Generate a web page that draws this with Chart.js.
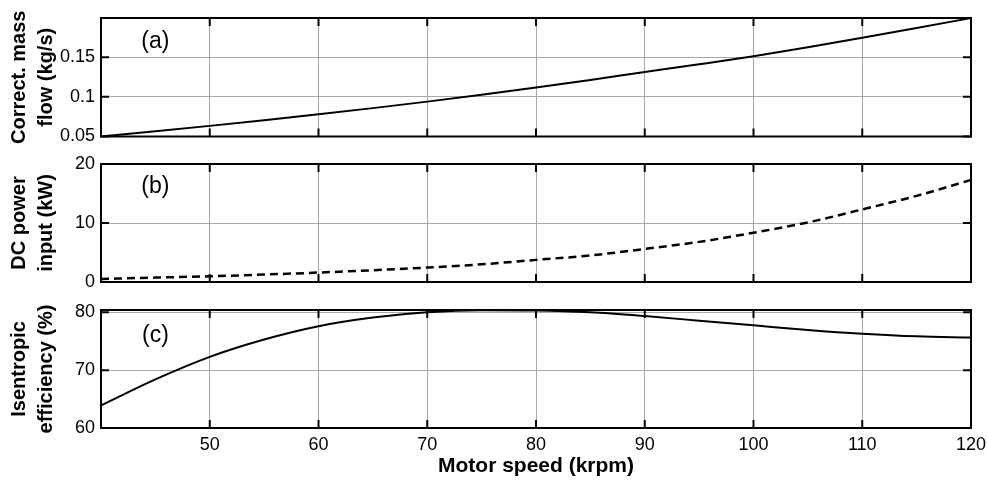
<!DOCTYPE html>
<html lang="en">
<head>
    <meta charset="UTF-8">
    <title>Compressor performance vs motor speed</title>
    <style>
        body {
            margin: 0;
            background: #ffffff;
        }
        #wrap {
            position: relative;
            width: 988px;
            height: 483px;
        }
        #wrap canvas {
            position: absolute;
            left: 0;
            top: 0;
        }
    </style>
</head>
<body>
    <div id="wrap">
        <canvas id="chartA" width="988" height="483"></canvas>
        <canvas id="chartB" width="988" height="483"></canvas>
        <canvas id="chartC" width="988" height="483"></canvas>
    </div>

    <script src="https://cdn.jsdelivr.net/npm/chart.js"></script>
    <script>
        // values (krpm on x)
        const speed = [40, 45, 50, 55, 60, 65, 70, 75, 80, 85, 90, 95, 100, 105, 110, 115, 120];
        const massFlow = [0.050, 0.0566, 0.0634, 0.0705, 0.0780, 0.0858, 0.0940, 0.1026, 0.1117, 0.1213, 0.1313, 0.1411, 0.1513, 0.1625, 0.1745, 0.1868, 0.1995];
        const dcPower = [0.5, 0.75, 0.97, 1.26, 1.6, 2.0, 2.45, 3.0, 3.75, 4.5, 5.6, 6.8, 8.35, 10.1, 12.3, 14.6, 17.3];
        const efficiency = [63.9, 68.4, 72.3, 75.3, 77.6, 79.1, 80.0, 80.35, 80.3, 80.0, 79.35, 78.55, 77.75, 76.95, 76.3, 75.85, 75.65];

        const speedTicks = [50, 60, 70, 80, 90, 100, 110, 120];
        const massTicks = [0.05, 0.1, 0.15];
        const powerTicks = [0, 10, 20];
        const effTicks = [60, 70, 80];

        const panelLabels = ['(a)', '(b)', '(c)'];
        const panelLabelX = 45;
        const panelLabelY = [0.17, 16.1, 75.9];

        const FONT = '"Liberation Sans", Arial, sans-serif';
        const GRID = '#a8a8a8';

        const framePlugin = {
            id: 'frame',
            afterDraw(chart, args, opts) {
                const ctx = chart.ctx;
                const a = chart.chartArea;
                const x = chart.scales.x;
                const y = chart.scales.y;
                ctx.save();
                ctx.strokeStyle = '#000';
                ctx.lineWidth = 2;
                ctx.beginPath();
                x.ticks.forEach(t => {
                    const px = x.getPixelForValue(t.value);
                    ctx.moveTo(px, a.top);
                    ctx.lineTo(px, a.top + 8);
                    ctx.moveTo(px, a.bottom);
                    ctx.lineTo(px, a.bottom - 8);
                });
                y.ticks.forEach(t => {
                    const py = y.getPixelForValue(t.value);
                    ctx.moveTo(a.left, py);
                    ctx.lineTo(a.left + 8, py);
                    ctx.moveTo(a.right, py);
                    ctx.lineTo(a.right - 8, py);
                });
                ctx.stroke();
                ctx.strokeRect(a.left, a.top, a.right - a.left, a.bottom - a.top);

                ctx.fillStyle = '#000';
                ctx.font = '23px ' + FONT;
                ctx.textAlign = 'center';
                ctx.textBaseline = 'middle';
                ctx.fillText(opts.text, x.getPixelForValue(panelLabelX), y.getPixelForValue(opts.y));
                ctx.restore();
            }
        };

        function makePanel(id, values, cfg) {
            const points = speed.map((s, i) => ({ x: s, y: values[i] }));
            return new Chart(document.getElementById(id), {
                type: 'line',
                data: {
                    datasets: [{
                        data: points,
                        borderColor: '#000',
                        borderWidth: cfg.lineWidth,
                        borderDash: cfg.dash,
                        pointRadius: 0,
                        fill: false,
                        cubicInterpolationMode: 'monotone'
                    }]
                },
                options: {
                    responsive: false,
                    animation: false,
                    devicePixelRatio: 1,
                    layout: {
                        padding: { left: 0, right: 17, top: cfg.top, bottom: cfg.bottom }
                    },
                    plugins: {
                        legend: { display: false },
                        tooltip: { enabled: false },
                        frame: { text: cfg.label, y: cfg.labelY }
                    },
                    scales: {
                        x: {
                            type: 'linear',
                            min: 40,
                            max: 120,
                            afterBuildTicks: s => { s.ticks = speedTicks.map(v => ({ value: v })); },
                            afterFit: s => {
                                s.height = cfg.xHeight;
                                s.paddingLeft = 0;
                                s.paddingRight = 0;
                            },
                            grid: { color: GRID, lineWidth: 1, drawTicks: false },
                            border: { display: false },
                            ticks: {
                                display: cfg.showX,
                                color: '#000',
                                padding: 6,
                                maxRotation: 0,
                                font: { family: FONT, size: 18 }
                            },
                            title: {
                                display: cfg.showX,
                                text: 'Motor speed (krpm)',
                                color: '#000',
                                padding: { top: 0, bottom: 4 },
                                font: { family: FONT, size: 21, weight: 'bold' }
                            }
                        },
                        y: {
                            type: 'linear',
                            min: cfg.min,
                            max: cfg.max,
                            afterBuildTicks: s => { s.ticks = cfg.ticks.map(v => ({ value: v })); },
                            afterFit: s => {
                                s.width = 101;
                                s.paddingTop = 0;
                                s.paddingBottom = 0;
                            },
                            grid: { color: GRID, lineWidth: 1, drawTicks: false },
                            border: { display: false },
                            ticks: {
                                color: '#000',
                                padding: 6,
                                font: { family: FONT, size: 18 },
                                callback: v => String(Number(v.toFixed(4)))
                            },
                            title: {
                                display: true,
                                text: cfg.title,
                                color: '#000',
                                padding: { top: 6, bottom: 0 },
                                font: { family: FONT, size: 20, weight: 'bold', lineHeight: 1.35 }
                            }
                        }
                    }
                },
                plugins: [framePlugin]
            });
        }

        makePanel('chartA', massFlow, {
            top: 18, bottom: 346.5, xHeight: 0, showX: false,
            min: 0.05, max: 0.1995, ticks: massTicks,
            title: ['Correct. mass', 'flow (kg/s)'],
            lineWidth: 2, dash: [],
            label: panelLabels[0], labelY: panelLabelY[0]
        });

        makePanel('chartB', dcPower, {
            top: 164, bottom: 201, xHeight: 0, showX: false,
            min: 0, max: 20, ticks: powerTicks,
            title: ['DC power', 'input (kW)'],
            lineWidth: 2.5, dash: [8, 5],
            label: panelLabels[1], labelY: panelLabelY[1]
        });

        makePanel('chartC', efficiency, {
            top: 310, bottom: 0, xHeight: 55, showX: true,
            min: 60, max: 80.4, ticks: effTicks,
            title: ['Isentropic', 'efficiency (%)'],
            lineWidth: 2, dash: [],
            label: panelLabels[2], labelY: panelLabelY[2]
        });
    </script>
</body>
</html>
